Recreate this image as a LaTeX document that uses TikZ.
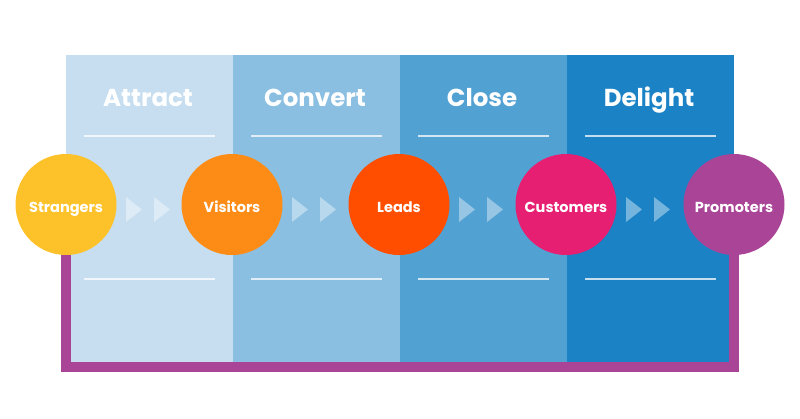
\documentclass[tikz,border=0pt]{standalone}
\usepackage{fontspec}
\setmainfont{Poppins}
\definecolor{attractblue}{HTML}{C6DEF0}
\definecolor{convertblue}{HTML}{8ABFE2}
\definecolor{closeblue}{HTML}{52A1D3}
\definecolor{delightblue}{HTML}{1A82C5}
\definecolor{strangeryellow}{HTML}{FDC22A}
\definecolor{visitororange}{HTML}{FD8C16}
\definecolor{leadred}{HTML}{FF4E00}
\definecolor{customerpink}{HTML}{E61F72}
\definecolor{promoterpurple}{HTML}{A94497}
\tikzset{
    stage/.style     = {circle, minimum size = 101pt, inner sep = 0pt, text = white,
                        text height = 15pt, text depth = -3pt,
                        font = \bfseries\fontsize{14.5}{14.5}\selectfont},
    stagetitle/.style = {text = white, anchor = base, font = \bfseries\fontsize{24.5}{24.5}\selectfont},
    rule/.style      = {white, opacity = 0.75, line width = 2pt},
    chevron/.style   = {fill = white, opacity = 0.4},
    loopline/.style  = {draw = promoterpurple, line width = 10pt, line join = miter}
}
\begin{document}
\begin{tikzpicture}[x = 1pt, y = -1pt]
    \useasboundingbox (0,0) rectangle (800,418);
    \foreach \x/\c/\t in {66/attractblue/Attract, 233/convertblue/Convert,
                          400/closeblue/Close, 567/delightblue/Delight} {
        \fill [\c]            (\x,55) rectangle ++(167,307);
        \node [stagetitle] at (\x+82,106) {\t};
        \draw [rule]          (\x+18,136) -- ++(131,0);
        \draw [rule]          (\x+18,279) -- ++(131,0);
    }
    \foreach \x in {66, 232, 399, 566} {
        \fill [chevron] (\x+60,197) -- ++(16,12.5) -- ++(-16,12.5) -- cycle;
        \fill [chevron] (\x+88,197) -- ++(16,12.5) -- ++(-16,12.5) -- cycle;
    }
    \node [stage, fill = strangeryellow] (strangers) at (66,204.5)  {Strangers};
    \node [stage, fill = visitororange]  (visitors)  at (232,204.5) {Visitors};
    \node [stage, fill = leadred]        (leads)     at (399,204.5) {Leads};
    \node [stage, fill = customerpink]   (customers) at (566,204.5) {Customers};
    \node [stage, fill = promoterpurple] (promoters) at (734,204.5) {Promoters};
    \draw [loopline] (strangers.south) -- (strangers.south |- 0,367)
                     -- (promoters.south |- 0,367) -- (promoters.south);
\end{tikzpicture}
\end{document}
